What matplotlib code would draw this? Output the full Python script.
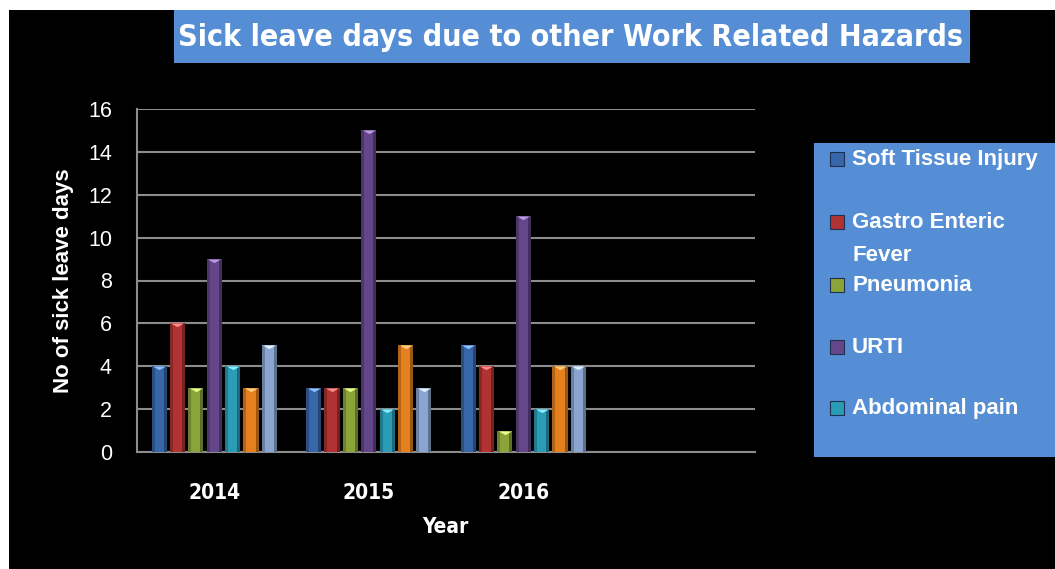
import numpy as np
from matplotlib import pyplot as plt
from matplotlib.patches import Rectangle

# data
years = ['2014', '2015', '2016']
series_names = ['Soft Tissue Injury', 'Gastro Enteric\nFever', 'Pneumonia', 'URTI',
                'Abdominal pain', 'Series 6', 'Series 7']
values = [
    [4, 3, 5],    # soft tissue injury
    [6, 3, 4],    # gastro enteric fever
    [3, 3, 1],    # pneumonia
    [9, 15, 11],  # URTI
    [4, 2, 2],    # abdominal pain
    [3, 5, 4],    # (not in legend)
    [5, 3, 4],    # (not in legend)
]
colors = ['#3767A8', '#B03232', '#8BA43A', '#64468A', '#2A9CB6', '#E4801E', '#8AA5CF']
tops = ['#8FC0FF', '#FF8A8A', '#E6FF8A', '#B898E0', '#8AECFF', '#FFD080', '#E0F0FF']
n_legend = 5

W, H = 1055, 569
fig = plt.figure(figsize=(W / 100, H / 100), dpi=100, facecolor='white')
narrow = dict(family='DejaVu Sans', fontstretch='condensed', fontweight='bold')

# black background panel
fig.patches.append(Rectangle((9 / W, 0), 1 - 9 / W, 1 - 10 / H, transform=fig.transFigure,
                             facecolor='black', edgecolor='none', zorder=-10))

# title box
fig.patches.append(Rectangle((174 / W, 1 - 63 / H), (970 - 174) / W, 53 / H,
                             transform=fig.transFigure, facecolor='#558ED5', edgecolor='none'))
fig.text(570 / W, 1 - 37 / H, 'Sick leave days due to other Work Related Hazards',
         ha='center', va='center', color='white', fontsize=21.8, **narrow)

ax = fig.add_axes([137 / W, 1 - 452 / H, (755 - 137) / W, (452 - 109) / H])
ax.set_facecolor('black')

x = np.arange(len(years))
pitch = 0.119
width = 0.098
n = len(values)
tri = [(-1, 0), (1, 0), (0, -0.55)]
for i, (vals, c, tc) in enumerate(zip(values, colors, tops)):
    xs = x + (i - (n - 1) / 2) * pitch
    ax.bar(xs, vals, width=width, color=c, edgecolor='none', zorder=3)
    # darker sides for the bevel look
    ax.bar(xs - width * 0.4, vals, width=width * 0.2, color='black', alpha=0.22,
           edgecolor='none', zorder=4)
    ax.bar(xs + width * 0.4, vals, width=width * 0.2, color='black', alpha=0.32,
           edgecolor='none', zorder=4)
    ax.scatter(xs, vals, marker=tri, s=90, color=tc, zorder=5, linewidths=0)

ax.set_xlim(-0.5, 3.5)
ax.set_ylim(0, 16)
ax.set_yticks(range(0, 17, 2))
ax.set_xticks(x)
ax.set_xticklabels(years, fontsize=15, color='white', **narrow)
ax.tick_params(axis='x', length=0, pad=22)
ax.tick_params(axis='y', length=0, pad=18, labelcolor='white')
for lb in ax.get_yticklabels():
    lb.set_family('Liberation Sans')
    lb.set_fontsize(15.5)
ax.grid(axis='y', color='#8C8C8C', linewidth=1.5, zorder=0)
for s in ['top', 'right']:
    ax.spines[s].set_visible(False)
for s in ['left', 'bottom']:
    ax.spines[s].set_color('#8C8C8C')
    ax.spines[s].set_linewidth(1.5)

ax.set_ylabel('No of sick leave days', color='white', fontsize=16, fontweight='bold',
              family='Liberation Sans', labelpad=10)
fig.text(445 / W, 1 - 527 / H, 'Year', ha='center', va='center', color='white',
         fontsize=15, **narrow)

# legend box
fig.patches.append(Rectangle((814 / W, 1 - 457 / H), (W - 814) / W, (457 - 143) / H,
                             transform=fig.transFigure, facecolor='#558ED5', edgecolor='none'))
leg_y = [159, 222, 285, 347, 408]
for name, c, tc, yy in zip(series_names[:n_legend], colors, tops, leg_y):
    fig.patches.append(Rectangle((830 / W, 1 - (yy + 7) / H), 14 / W, 14 / H,
                                 transform=fig.transFigure, facecolor=c, edgecolor='#1F3050',
                                 linewidth=0.8))
    fig.text(852 / W, 1 - (yy - 10) / H, name, ha='left', va='top', color='white',
             fontsize=16, fontweight='bold', family='Liberation Sans', linespacing=1.72)

fig.savefig('out.png', dpi=100, facecolor=fig.get_facecolor())
